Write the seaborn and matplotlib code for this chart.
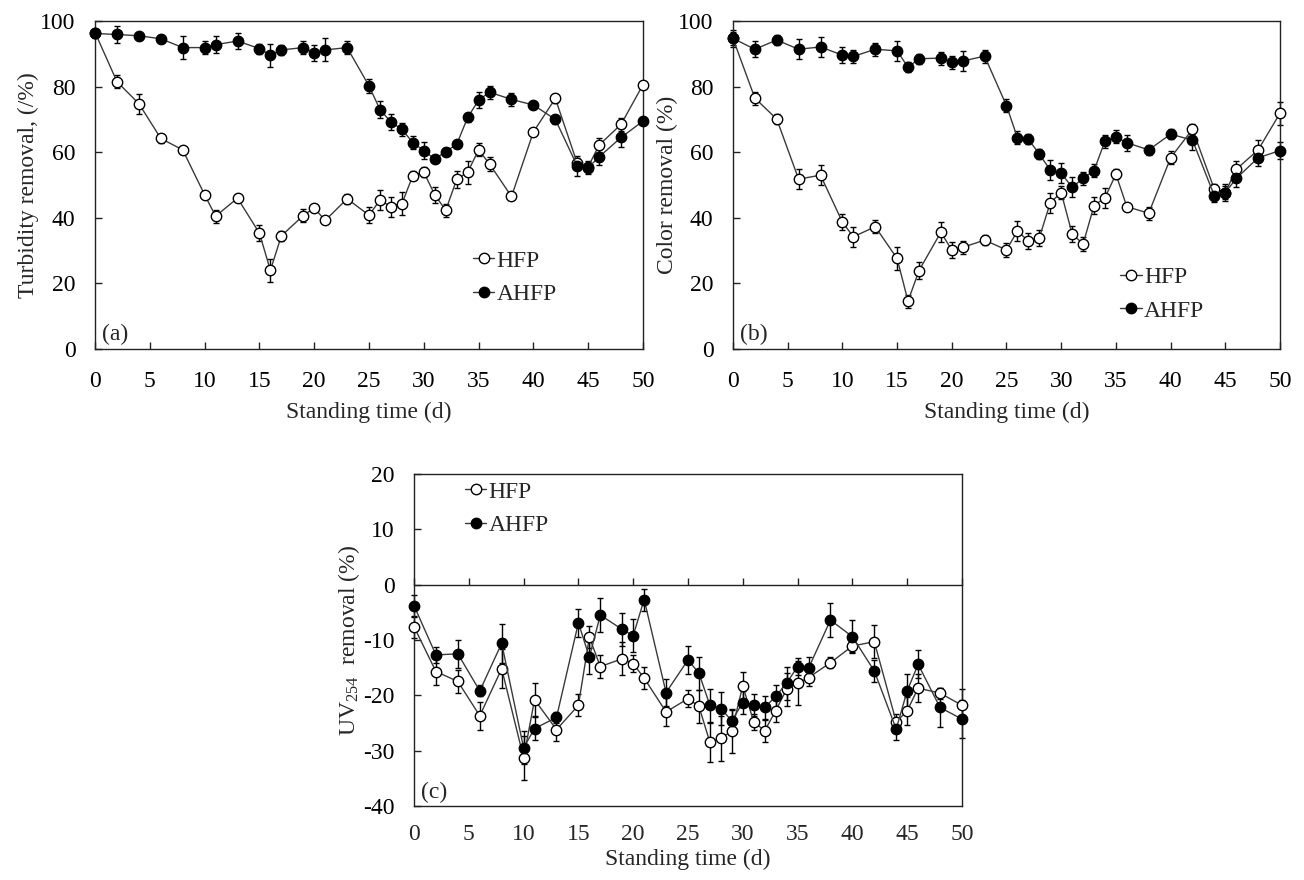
import numpy as np
import pandas as pd
import matplotlib
matplotlib.use('Agg')
import matplotlib.pyplot as plt
import seaborn as sns

days = [0, 2, 4, 6, 8, 10, 11, 13, 15, 16, 17, 19, 20, 21, 23, 25, 26, 27, 28, 29,
        30, 31, 32, 33, 34, 35, 36, 38, 40, 42, 44, 45, 46, 48, 50]

# (a) turbidity removal
a_hfp = [96.5, 81.5, 74.8, 64.2, 60.7, 47.0, 40.5, 46.0, 35.3, 24.0, 34.5, 40.7, 43.0, 39.2, 45.8,
         40.8, 45.4, 43.4, 44.3, 52.9, 53.9, 47.0, 42.3, 51.7, 53.9, 60.7, 56.4, 46.5, 66.2, 76.4,
         56.6, 55.6, 62.2, 68.5, 80.6]
a_hfp_err = [1.0, 2.0, 3.0, 1.5, 0.5, 1.0, 2.0, 1.0, 2.5, 3.5, 1.5, 2.0, 1.0, 0.5, 1.5, 2.5, 3.0, 3.0,
             3.5, 1.5, 1.5, 2.5, 2.0, 2.5, 3.5, 2.0, 2.0, 0.5, 0.5, 1.5, 1.5, 1.0, 2.0, 2.0, 0.5]
a_ahfp = [96.2, 95.9, 95.5, 94.6, 91.9, 91.9, 92.8, 93.9, 91.6, 89.6, 91.2, 91.9, 90.3, 91.2, 91.9,
          80.2, 73.0, 69.2, 67.0, 62.9, 60.5, 57.9, 60.2, 62.4, 70.6, 75.9, 78.3, 76.1, 74.4, 70.0,
          55.8, 55.3, 58.6, 64.5, 69.5]
a_ahfp_err = [1.5, 2.5, 1.0, 1.0, 3.5, 2.0, 2.5, 2.5, 1.5, 3.5, 1.5, 2.0, 2.5, 3.5, 2.0, 2.0, 2.5, 2.5,
              2.0, 2.0, 2.5, 1.0, 1.0, 1.0, 1.5, 2.5, 2.0, 2.0, 1.0, 1.5, 3.0, 2.0, 2.5, 3.0, 0.5]

# (b) color removal
b_hfp = [94.7, 76.5, 70.1, 51.8, 53.0, 38.7, 34.2, 37.3, 27.6, 14.6, 23.9, 35.6, 30.2, 31.0, 33.2,
         30.2, 36.0, 32.9, 33.9, 44.6, 47.7, 35.1, 32.0, 43.7, 46.1, 53.3, 43.4, 41.4, 58.3, 67.0,
         48.7, 47.7, 54.8, 60.7, 71.9]
b_hfp_err = [2.0, 2.0, 1.5, 3.0, 3.0, 2.5, 3.0, 2.0, 3.5, 2.0, 2.5, 3.0, 2.5, 2.0, 1.5, 2.0, 3.0, 2.5,
             2.5, 3.0, 2.0, 2.5, 2.0, 2.5, 3.0, 1.5, 0.5, 2.0, 2.0, 1.5, 1.5, 2.0, 2.5, 3.0, 3.5]
b_ahfp = [94.7, 91.4, 94.2, 91.4, 92.1, 89.6, 89.2, 91.4, 90.9, 85.9, 88.5, 88.7, 87.4, 87.8, 89.3,
          74.2, 64.4, 64.0, 59.4, 54.6, 53.6, 49.3, 52.0, 54.4, 63.4, 64.7, 62.9, 60.7, 65.5, 63.7,
          46.7, 47.7, 52.0, 58.3, 60.5]
b_ahfp_err = [2.5, 2.5, 1.5, 3.0, 3.0, 2.5, 2.0, 2.0, 3.0, 1.5, 1.5, 2.0, 2.0, 3.0, 2.0, 2.0, 2.0, 1.5,
              1.5, 3.0, 3.0, 3.0, 2.0, 2.0, 2.0, 2.0, 2.5, 1.5, 1.5, 3.0, 2.0, 2.5, 2.5, 2.5, 2.5]

# (c) UV254 removal
c_hfp = [-7.6, -15.7, -17.5, -23.7, -15.2, -31.3, -20.8, -26.2, -21.8, -9.5, -14.8, -13.4, -14.3,
         -16.9, -23.0, -20.6, -22.0, -28.5, -27.8, -26.4, -18.3, -24.8, -26.4, -22.8, -18.9, -17.8,
         -16.8, -14.1, -11.1, -10.3, -24.8, -22.8, -18.7, -19.6, -21.8]
c_hfp_err = [2.0, 2.5, 2.0, 2.5, 3.5, 4.0, 3.0, 2.0, 2.0, 2.0, 2.0, 3.0, 1.5, 2.0, 2.5, 1.5, 3.0, 3.5,
             4.0, 4.0, 2.5, 1.5, 2.0, 2.0, 3.0, 4.0, 1.5, 1.0, 1.0, 3.0, 1.5, 2.5, 2.5, 1.0, 3.0]
c_ahfp = [-3.8, -12.7, -12.5, -19.2, -10.6, -29.5, -26.0, -24.0, -6.9, -13.1, -5.5, -8.1, -9.2, -2.7,
          -19.5, -13.6, -16.0, -21.8, -22.4, -24.6, -21.3, -21.8, -22.2, -20.2, -17.8, -14.8, -15.1,
          -6.4, -9.4, -15.6, -26.1, -19.2, -14.4, -22.2, -24.3]
c_ahfp_err = [2.0, 1.5, 2.5, 1.0, 3.5, 3.0, 2.0, 1.0, 2.5, 3.0, 3.0, 3.0, 3.0, 2.0, 2.5, 2.5, 3.0, 3.0,
              3.0, 2.0, 2.0, 2.0, 2.0, 2.0, 3.0, 1.5, 2.0, 3.0, 3.0, 2.0, 2.0, 3.0, 2.5, 3.5, 3.5]

sns.set_style('ticks')
plt.rcParams['font.family'] = ['Liberation Serif', 'DejaVu Serif']
plt.rcParams['mathtext.fontset'] = 'custom'
plt.rcParams['mathtext.rm'] = 'Liberation Serif'
plt.rcParams['mathtext.it'] = 'Liberation Serif'
plt.rcParams['mathtext.default'] = 'regular'
plt.rcParams['axes.edgecolor'] = '#222222'
plt.rcParams['axes.linewidth'] = 1.0

FS = 17
LINE = '#3a3a3a'


def draw_panel(ax, hfp, hfp_err, ahfp, ahfp_err):
    df = pd.DataFrame({'day': days, 'HFP': hfp, 'AHFP': ahfp})
    ax.errorbar(days, hfp, yerr=hfp_err, fmt='none', ecolor='black', elinewidth=1,
                capsize=2.3, capthick=1, clip_on=False, zorder=2)
    ax.errorbar(days, ahfp, yerr=ahfp_err, fmt='none', ecolor='black', elinewidth=1,
                capsize=2.3, capthick=1, clip_on=False, zorder=2)
    sns.lineplot(data=df, x='day', y='HFP', ax=ax, color=LINE, linewidth=1, marker='o',
                 markersize=7.5, markerfacecolor='white', markeredgecolor='black',
                 markeredgewidth=1, label='HFP', clip_on=False, zorder=3)
    sns.lineplot(data=df, x='day', y='AHFP', ax=ax, color=LINE, linewidth=1, marker='o',
                 markersize=7.5, markerfacecolor='black', markeredgecolor='black',
                 markeredgewidth=1, label='AHFP', clip_on=False, zorder=4)
    ax.set_xlim(0, 50)
    ax.set_xticks(np.arange(0, 51, 5))
    ax.tick_params(axis='both', direction='in', length=5, width=1, colors='#222222',
                   labelcolor='black', labelsize=FS)
    ax.tick_params(axis='x', pad=16)
    ax.tick_params(axis='y', pad=14)
    for s in ax.spines.values():
        s.set_visible(True)


def legend(ax, anchor):
    ax.legend(loc='center left', bbox_to_anchor=anchor, frameon=False, fontsize=FS,
              handlelength=0.9, handletextpad=0.1, numpoints=1, borderaxespad=0,
              borderpad=0, labelspacing=0.5)


fig = plt.figure(figsize=(13.04, 8.8), dpi=100)
ax_a = fig.add_axes([0.0729, 0.6034, 0.4202, 0.3727])
ax_b = fig.add_axes([0.5621, 0.6034, 0.4195, 0.3727])
ax_c = fig.add_axes([0.3175, 0.0841, 0.4202, 0.3773])

# (a)
draw_panel(ax_a, a_hfp, a_hfp_err, a_ahfp, a_ahfp_err)
ax_a.set_ylim(0, 100)
ax_a.set_yticks(np.arange(0, 101, 20))
ax_a.set_ylabel('Turbidity removal, (/%)', fontsize=FS, labelpad=1)
ax_a.set_xlabel('Standing time (d)', fontsize=FS, labelpad=7)
ax_a.text(0.013, 0.045, '(a)', transform=ax_a.transAxes, fontsize=FS, va='center', ha='left')
legend(ax_a, (0.69, 0.218))

# (b)
draw_panel(ax_b, b_hfp, b_hfp_err, b_ahfp, b_ahfp_err)
ax_b.set_ylim(0, 100)
ax_b.set_yticks(np.arange(0, 101, 20))
ax_b.set_ylabel('Color removal (%)', fontsize=FS, labelpad=0)
ax_b.set_xlabel('Standing time (d)', fontsize=FS, labelpad=7)
ax_b.text(0.013, 0.045, '(b)', transform=ax_b.transAxes, fontsize=FS, va='center', ha='left')
legend(ax_b, (0.708, 0.167))

# (c) x axis runs along y = 0, labels stay at the bottom
draw_panel(ax_c, c_hfp, c_hfp_err, c_ahfp, c_ahfp_err)
ax_c.set_ylim(-40, 20)
ax_c.set_yticks(np.arange(-40, 21, 10))
ax_c.set_yticklabels([str(v) for v in range(-40, 21, 10)])
ax_c.spines['bottom'].set_position(('data', 0))
ax_c.tick_params(axis='x', labelbottom=False)
ax_c.set_xlabel('')
sec = ax_c.secondary_xaxis('bottom')
sec.set_xticks(np.arange(0, 51, 5))
sec.tick_params(axis='x', length=0, pad=13, labelsize=FS)
sec.spines['bottom'].set_color('#222222')
sec.set_xlabel('Standing time (d)', fontsize=FS, labelpad=3)
ax_c.set_ylabel('UV$_{254}$  removal (%)', fontsize=FS, labelpad=1)
ax_c.text(0.013, 0.04, '(c)', transform=ax_c.transAxes, fontsize=FS, va='center', ha='left')
legend(ax_c, (0.093, 0.896))

fig.savefig('out.png', dpi=100)
